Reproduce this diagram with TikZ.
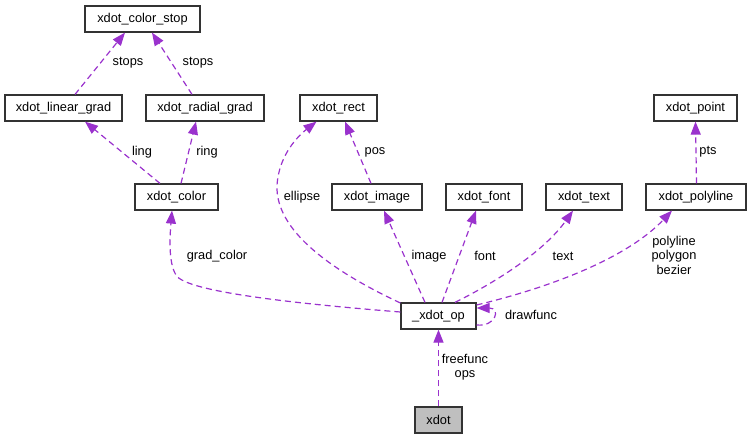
\documentclass[tikz,border=0pt]{standalone}
\usepackage{fontspec}
\setmainfont{Liberation Sans}
\usetikzlibrary{arrows.meta}
\definecolor{edgec}{HTML}{9A32CD}
\definecolor{boxc}{HTML}{333333}
\definecolor{greyfill}{HTML}{BFBFBF}
\tikzset{
  cls/.style={draw=boxc, line width=1.2pt, fill=white, inner sep=0pt, minimum height=26pt, font=\fontsize{12.8}{14}\selectfont},
  curcls/.style={cls, fill=greyfill},
  edge/.style={draw=edgec, line width=1.2pt, dash pattern=on 6pt off 4pt, -{Triangle[length=13pt,width=10pt]}, shorten >=0pt},
  lbl/.style={inner sep=0pt, align=center, font=\fontsize{12.8}{14.5}\selectfont}
}
\begin{document}
\begin{tikzpicture}[x=1pt,y=-1pt]
\useasboundingbox (0,0) rectangle (751,439);
% nodes
\node[cls, minimum width=115pt] (cs) at (142.5,19) {xdot\_color\_stop};
\node[cls, minimum width=117pt] (lg) at (63.5,108) {xdot\_linear\_grad};
\node[cls, minimum width=118pt] (rg) at (205,108) {xdot\_radial\_grad};
\node[cls, minimum width=83pt] (col) at (176.5,197) {xdot\_color};
\node[cls, minimum width=77pt] (rect) at (338.5,108) {xdot\_rect};
\node[cls, minimum width=83pt] (pt) at (695.5,108) {xdot\_point};
\node[cls, minimum width=90pt] (img) at (377,197) {xdot\_image};
\node[cls, minimum width=76pt] (fnt) at (484,197) {xdot\_font};
\node[cls, minimum width=76pt] (txt) at (584,197) {xdot\_text};
\node[cls, minimum width=100pt] (poly) at (696,197) {xdot\_polyline};
\node[cls, minimum width=75pt] (op) at (438.5,316) {\_xdot\_op};
\node[curcls, minimum width=47pt] (xd) at (438.5,420) {xdot};
% edges
\draw[edge] ([xshift=11.5pt]lg.north) -- ([xshift=-17.5pt]cs.south);
\draw[edge] ([xshift=-13pt]rg.north) -- ([xshift=9.5pt]cs.south);
\draw[edge] ([xshift=-16.5pt]col.north) -- ([xshift=21.5pt]lg.south);
\draw[edge] ([xshift=4.5pt]col.north) -- ([xshift=-9pt]rg.south);
\draw[edge] ([yshift=4pt]op.west) .. controls (300,304) and (185,292) .. (176,275)
  .. controls (168,262) and (170,235) .. ([xshift=-4.5pt]col.south);
\draw[edge] ([yshift=13pt]op.west) .. controls (330,270) and (275,230) .. (277,185)
  .. controls (279,155) and (298,136) .. ([xshift=-22pt]rect.south);
\draw[edge] ([xshift=-6pt]img.north) -- ([xshift=6.5pt]rect.south);
\draw[edge] ([xshift=-13.5pt]op.north) -- ([xshift=7pt]img.south);
\draw[edge] ([xshift=3.5pt]op.north) -- ([xshift=-8pt]fnt.south);
\draw[edge] ([xshift=16.5pt]op.north) .. controls (500,280) and (545,250) .. ([xshift=-11pt]txt.south);
\draw[edge] ([yshift=11pt]op.east) .. controls (560,285) and (630,255) .. ([xshift=-24pt]poly.south);
\draw[edge] ([yshift=-9pt]op.east) .. controls (496,327) and (501,308) .. ([yshift=8pt]op.east);
\draw[edge] (xd.north) -- (op.south);
\draw[edge] ([xshift=0.5pt]poly.north) -- (pt.south);
% labels
\node[lbl] (l1) at (128,63) {stops};
\node[lbl] (l2) at (198,63) {stops};
\node[lbl] (l3) at (142,152) {ling};
\node[lbl] (l4) at (207,152) {ring};
\node[lbl] (l5) at (302,197) {ellipse};
\node[lbl] (l6) at (375,152) {pos};
\node[lbl] (l7) at (708,152) {pts};
\node[lbl] (l8) at (429,256) {image};
\node[lbl] (l9) at (485,256) {font};
\node[lbl] (l10) at (563,256) {text};
\node[lbl] (l11) at (674,255) {polyline\\polygon\\bezier};
\node[lbl] (l12) at (217,256) {grad\_color};
\node[lbl] (l13) at (531,315) {drawfunc};
\node[lbl] (l14) at (465,367) {freefunc\\ops};
\end{tikzpicture}
\end{document}
